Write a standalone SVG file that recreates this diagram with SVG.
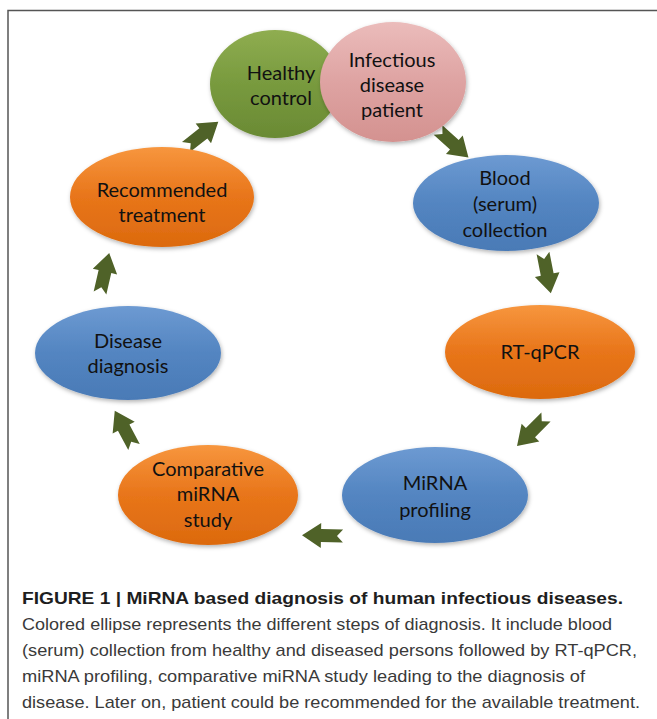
<svg xmlns="http://www.w3.org/2000/svg" width="657" height="719" viewBox="0 0 657 719">
<style>
.lbl{font-family:Lato,"Open Sans","Liberation Sans",sans-serif;font-size:20px;fill:#111;text-anchor:middle}
.cap{font-family:"Liberation Sans",Arial,sans-serif;font-size:17px;fill:#3a3a3a}
.capb{font-family:"Liberation Sans",Arial,sans-serif;font-size:17px;font-weight:bold;fill:#1e1e1e}
.arr{fill:#4f6228}
</style>
<defs>
<linearGradient id="gGreen" x1="0" y1="0" x2="0" y2="1"><stop offset="0" stop-color="#8fad50"/><stop offset="0.5" stop-color="#789a3e"/><stop offset="1" stop-color="#6a8a34"/></linearGradient>
<linearGradient id="gPink" x1="0" y1="0" x2="0" y2="1"><stop offset="0" stop-color="#ebbcbb"/><stop offset="0.5" stop-color="#dea3a2"/><stop offset="1" stop-color="#d49290"/></linearGradient>
<linearGradient id="gBlue" x1="0" y1="0" x2="0" y2="1"><stop offset="0" stop-color="#6d9ad2"/><stop offset="0.5" stop-color="#5385c1"/><stop offset="1" stop-color="#4a7ab6"/></linearGradient>
<linearGradient id="gOrange" x1="0" y1="0" x2="0" y2="1"><stop offset="0" stop-color="#f7963e"/><stop offset="0.5" stop-color="#e8751a"/><stop offset="1" stop-color="#dc6a0e"/></linearGradient>
<filter id="sh" x="-20%" y="-20%" width="140%" height="150%"><feDropShadow dx="1" dy="2" stdDeviation="2" flood-color="#000" flood-opacity="0.3"/></filter>
<path id="na" d="M0,-6.5 L22,-6.5 L22,-12.5 L41,0 L22,12.5 L22,6.5 L0,6.5 L6,0 Z"/>
</defs>
<rect width="657" height="719" fill="#fff"/>
<path d="M8,719 V10.5 H657" fill="none" stroke="#555" stroke-width="1.5"/>

<g id="connectors" class="arr">
<use href="#na" transform="translate(186,147) rotate(-38)"/>
<use href="#na" transform="translate(438,130) rotate(42)"/>
<use href="#na" transform="translate(543,253) rotate(79)"/>
<use href="#na" transform="translate(546,417) rotate(135)"/>
<use href="#na" transform="translate(343,536) rotate(181)"/>
<use href="#na" transform="translate(134,447) rotate(-118)"/>
<use href="#na" transform="translate(100,293) rotate(-77)"/>
</g>

<g id="healthy">
<ellipse cx="275" cy="84" rx="65" ry="54" fill="url(#gGreen)" filter="url(#sh)"/>
<text class="lbl" x="281" y="80">Healthy</text>
<text class="lbl" x="281" y="105">control</text>
</g>
<g id="infectious">
<ellipse cx="393" cy="82" rx="73" ry="60" fill="url(#gPink)" filter="url(#sh)"/>
<text class="lbl" x="392" y="67">Infectious</text>
<text class="lbl" x="392" y="92">disease</text>
<text class="lbl" x="392" y="117">patient</text>
</g>
<g id="blood">
<ellipse cx="506" cy="203" rx="93" ry="48" fill="url(#gBlue)" filter="url(#sh)"/>
<text class="lbl" x="505" y="185">Blood</text>
<text class="lbl" x="505" y="211">(serum)</text>
<text class="lbl" x="505" y="237">collection</text>
</g>
<g id="rtqpcr">
<ellipse cx="540" cy="352" rx="95" ry="47" fill="url(#gOrange)" filter="url(#sh)"/>
<text class="lbl" x="540" y="359">RT-qPCR</text>
</g>
<g id="profiling">
<ellipse cx="435" cy="495" rx="93" ry="48" fill="url(#gBlue)" filter="url(#sh)"/>
<text class="lbl" x="435" y="490">MiRNA</text>
<text class="lbl" x="435" y="517">profiling</text>
</g>
<g id="comparative">
<ellipse cx="208" cy="495" rx="90" ry="50" fill="url(#gOrange)" filter="url(#sh)"/>
<text class="lbl" x="208" y="476">Comparative</text>
<text class="lbl" x="208" y="501">miRNA</text>
<text class="lbl" x="208" y="527">study</text>
</g>
<g id="diagnosis">
<ellipse cx="128" cy="353" rx="93" ry="47" fill="url(#gBlue)" filter="url(#sh)"/>
<text class="lbl" x="128" y="348">Disease</text>
<text class="lbl" x="128" y="373">diagnosis</text>
</g>
<g id="treatment">
<ellipse cx="162" cy="197" rx="92" ry="50" fill="url(#gOrange)" filter="url(#sh)"/>
<text class="lbl" x="162" y="197">Recommended</text>
<text class="lbl" x="162" y="222">treatment</text>
</g>

<g id="caption">
<text class="capb" x="22" y="604" textLength="601" lengthAdjust="spacingAndGlyphs">FIGURE 1 | MiRNA based diagnosis of human infectious diseases.</text>
<text class="cap" x="22" y="630" textLength="590" lengthAdjust="spacingAndGlyphs">Colored ellipse represents the different steps of diagnosis. It include blood</text>
<text class="cap" x="22" y="656" textLength="615" lengthAdjust="spacingAndGlyphs">(serum) collection from healthy and diseased persons followed by RT-qPCR,</text>
<text class="cap" x="22" y="682" textLength="563" lengthAdjust="spacingAndGlyphs">miRNA profiling, comparative miRNA study leading to the diagnosis of</text>
<text class="cap" x="22" y="708" textLength="618" lengthAdjust="spacingAndGlyphs">disease. Later on, patient could be recommended for the available treatment.</text>
</g>
</svg>
